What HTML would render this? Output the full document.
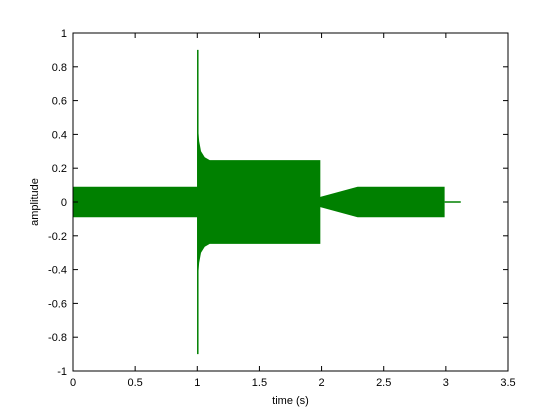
<!DOCTYPE html>
<html><head><meta charset="utf-8"><style>body{margin:0;background:#fff}svg{display:block;font-family:"Liberation Sans",sans-serif}</style></head>
<body>
<svg id="c" width="560" height="420"></svg>
<script>
const envT=[0,1.0,1.0,1.005,1.015,1.03,1.06,1.1,1.99,1.99,2.29,2.99,2.99];
const envA=[0.09,0.09,0.54,0.45,0.36,0.3,0.265,0.248,0.248,0.03,0.09,0.09,0.003];
const spikeT=[1.0];const spikeA=[0.9];
const tailT=[2.99,3.12];
const xTicks=[0,0.5,1,1.5,2,2.5,3,3.5];
const yTicks=[-1,-0.8,-0.6,-0.4,-0.2,0,0.2,0.4,0.6,0.8,1];
const L=73,R=508,T=33,B=371;
const X=t=>L+(t-0)/3.5*(R-L);
const Y=v=>B-(v+1)/2*(B-T);
const svg=document.getElementById('c');const NS='http://www.w3.org/2000/svg';
function mk(tag,attrs,parent){const e=document.createElementNS(NS,tag);for(const k in attrs)e.setAttribute(k,attrs[k]);(parent||svg).appendChild(e);return e;}
let pts=envT.map((t,i)=>X(t)+','+Y(envA[i]));
for(let i=envT.length-1;i>=0;i--)pts.push(X(envT[i])+','+Y(-envA[i]));
const env=mk('polygon',{points:pts.join(' '),fill:'#008000'});


spikeT.forEach((t,i)=>{const s=mk('line',{x1:X(t)+0.5,x2:X(t)+0.5,y1:Y(spikeA[i]),y2:Y(-spikeA[i]),stroke:'#008000','stroke-width':1.5});

});
const tl=mk('line',{x1:X(tailT[0]),x2:X(tailT[1]),y1:Y(0),y2:Y(0),stroke:'#008000','stroke-width':1.5});


const box=mk('rect',{x:L,y:T,width:R-L,height:B-T,fill:'none',stroke:'#000','stroke-width':1});


xTicks.forEach(v=>{const x=X(v);
mk('line',{x1:x,x2:x,y1:B,y2:B-5,stroke:'#000'});mk('line',{x1:x,x2:x,y1:T,y2:T+5,stroke:'#000'});
const t=mk('text',{x:x,y:B+15,'text-anchor':'middle','font-size':11});t.textContent=String(v);

});
yTicks.forEach(v=>{const y=Y(v);
mk('line',{x1:L,x2:L+5,y1:y,y2:y,stroke:'#000'});mk('line',{x1:R,x2:R-5,y1:y,y2:y,stroke:'#000'});
const t=mk('text',{x:L-6,y:y+4,'text-anchor':'end','font-size':11});t.textContent=String(v);

});
const xt=mk('text',{x:(L+R)/2,y:B+33,'text-anchor':'middle','font-size':11});xt.textContent='time (s)';


const yt=mk('text',{x:0,y:0,'text-anchor':'middle','font-size':11,transform:`translate(38,${(T+B)/2}) rotate(-90)`});yt.textContent='amplitude';


</script>
</body></html>
